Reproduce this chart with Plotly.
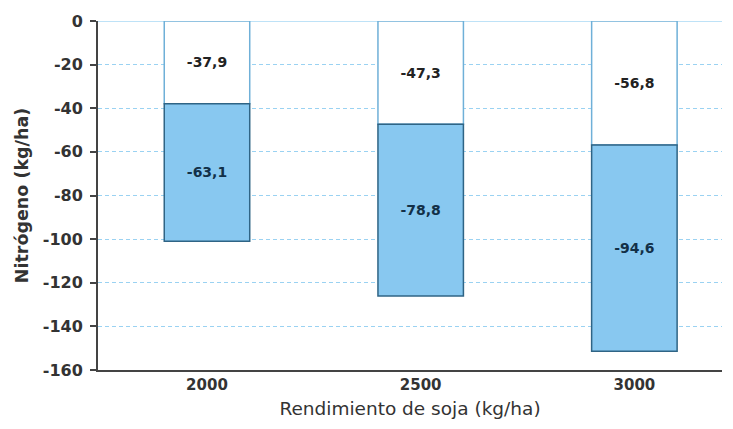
import plotly.graph_objects as go

categories = ["2000", "2500", "3000"]
top_values = [-37.9, -47.3, -56.8]
bottom_values = [-63.1, -78.8, -94.6]
y_ticks = [0, -20, -40, -60, -80, -100, -120, -140, -160]
y_tick_labels = ["0", "-20", "-40", "-60", "-80", "-100", "-120", "-140", "-160"]

def fmt(v):
    return f"{v:.1f}".replace(".", ",")

FONT = "DejaVu Sans"

fig = go.Figure()
fig.add_trace(go.Bar(
    x=categories, y=top_values, width=0.4,
    marker=dict(color="white", line=dict(color="#6fb0d8", width=1.5)),
    text=[fmt(v) for v in top_values], textposition="inside",
    insidetextanchor="middle",
    textfont=dict(family=FONT, size=14, color="#222222", weight="bold"),
    hoverinfo="skip",
))
fig.add_trace(go.Bar(
    x=categories, y=bottom_values, width=0.4,
    marker=dict(color="#88c8f0", line=dict(color="#2f6485", width=1.5)),
    text=[fmt(v) for v in bottom_values], textposition="inside",
    insidetextanchor="middle",
    textfont=dict(family=FONT, size=14, color="#123048", weight="bold"),
    hoverinfo="skip",
))

fig.update_layout(
    barmode="relative",
    width=725, height=421,
    margin=dict(l=90, r=11, t=13, b=59),
    paper_bgcolor="white", plot_bgcolor="white",
    showlegend=False,
    font=dict(family=FONT, color="#333333"),
    xaxis=dict(
        type="category", range=[-0.51, 2.41], automargin=False,
        showline=True, linecolor="#444444", linewidth=2,
        ticks="", showgrid=False,
        tickfont=dict(family=FONT, size=15, color="#333333", weight="bold"),
        title=dict(text="Rendimiento de soja (kg/ha)", standoff=9,
                   font=dict(family=FONT, size=18.5, color="#333333")),
    ),
    yaxis=dict(
        range=[-160, 0], tickvals=y_ticks, ticktext=y_tick_labels,
        automargin=False,
        showline=True, linecolor="#444444", linewidth=2,
        ticks="outside", ticklen=6, tickcolor="#444444", tickwidth=1.5,
        ticklabelstandoff=4,
        showgrid=True, gridcolor="#9ad2f2", griddash="4px,3px", gridwidth=1,
        zeroline=False,
        tickfont=dict(family=FONT, size=16, color="#333333", weight="bold"),
        title=dict(text="Nitrógeno (kg/ha)", standoff=10,
                   font=dict(family=FONT, size=17.5, color="#333333", weight="bold")),
    ),
)

fig.add_shape(type="line", xref="paper", yref="y", x0=0, x1=1, y0=0, y1=0,
              line=dict(color="#a8d8f4", width=1.5), layer="below")

fig.write_html("out.html")
